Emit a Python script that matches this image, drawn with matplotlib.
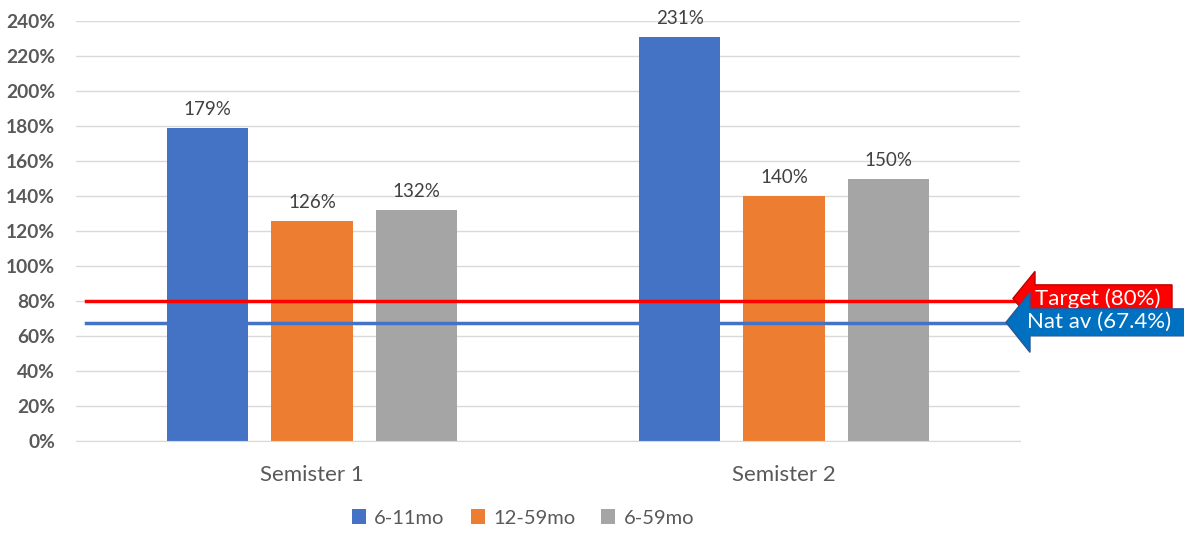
import matplotlib
matplotlib.use("Agg")
import matplotlib.pyplot as plt
from matplotlib.patches import Polygon, Patch
from matplotlib.transforms import blended_transform_factory

# Coverage by semester and age group
categories = ["Semister 1", "Semister 2"]
series_names = ["6-11mo", "12-59mo", "6-59mo"]
series_values = [
    [179, 231],   # 6-11mo
    [126, 140],   # 12-59mo
    [132, 150],   # 6-59mo
]
series_colors = ["#4472C4", "#ED7D31", "#A5A5A5"]
yticks = list(range(0, 241, 20))

target_value = 80
target_label = "Target (80%)"
national_value = 67.4
national_label = "Nat av (67.4%)"

plt.rcParams["font.family"] = ["Lato", "DejaVu Sans"]

W, H = 1184, 533
fig = plt.figure(figsize=(W / 100, H / 100), dpi=100)
ax = fig.add_axes([76 / W, (H - 441) / H, (1020 - 76) / W, (441 - 21) / H])

bar_w = 0.172
step = 0.221
for i, (name, vals, col) in enumerate(zip(series_names, series_values, series_colors)):
    xs = [c + (i - 1) * step for c in range(len(categories))]
    ax.bar(xs, vals, width=bar_w, color=col, label=name, zorder=2)
    for x, v in zip(xs, vals):
        ax.annotate(f"{v}%", (x, v), xytext=(0, 7), textcoords="offset points",
                    ha="center", va="bottom", fontsize=13.5, color="#404040")

ax.set_xlim(-0.5, len(categories) - 0.5)
ax.set_ylim(0, 240)
ax.set_yticks(yticks)
ax.set_yticklabels([f"{t}%" for t in yticks], fontsize=13.8, fontweight="bold", color="#595959")
ax.set_xticks(range(len(categories)))
ax.set_xticklabels(categories, fontsize=16, color="#595959")
ax.tick_params(axis="both", length=0)
ax.tick_params(axis="y", pad=15)
ax.tick_params(axis="x", pad=17)
ax.grid(axis="y", color="#D9D9D9", linewidth=1, zorder=0)
for s in ["top", "right", "left"]:
    ax.spines[s].set_visible(False)
ax.spines["bottom"].set_color("#D9D9D9")

# Reference lines
ax.axhline(target_value, xmin=10 / 944, xmax=1, color="#FF0000", linewidth=2.5, zorder=3)
ax.axhline(national_value, xmin=10 / 944, xmax=1, color="#4472C4", linewidth=2.5, zorder=3)

# Arrow callouts (x in figure pixels, y in data units)
tr = blended_transform_factory(fig.dpi_scale_trans, ax.transData)
px = 1 / 100.0     # inch per pixel
ppu = 420 / 240.0  # pixels per percent


def callout(tip_x, tip_val, head_x, right_x, head_half, body_half, face, edge,
            text, text_x, zo):
    pts = [
        (tip_x, tip_val),
        (head_x, tip_val + head_half / ppu),
        (head_x, tip_val + body_half / ppu),
        (right_x, tip_val + body_half / ppu),
        (right_x, tip_val - body_half / ppu),
        (head_x, tip_val - body_half / ppu),
        (head_x, tip_val - head_half / ppu),
    ]
    pts = [(x * px, y) for x, y in pts]
    poly = Polygon(pts, closed=True, facecolor=face, edgecolor=edge, linewidth=1,
                   transform=tr, clip_on=False, zorder=zo)
    fig.add_artist(poly)
    fig.text(text_x * px, tip_val, text, transform=tr, color="white",
             fontsize=16, ha="center", va="center", zorder=zo + 1)


callout(1013, target_value + 1.5, 1035, 1172, 27, 13.5, "#FF0000", "#C00000",
        target_label, 1098, 5)
callout(1006, national_value + 0.4, 1030, 1190, 30, 13.5, "#0070C0", "#2F5597",
        national_label, 1099, 7)

handles = [Patch(facecolor=c, label=n) for n, c in zip(series_names, series_colors)]
fig.legend(handles=handles, loc="center", bbox_to_anchor=(523 / W, (H - 518) / H),
           ncol=3, frameon=False, fontsize=14.5, handlelength=0.7, handleheight=0.7,
           handletextpad=0.4, columnspacing=1.3, labelcolor="#595959")

fig.savefig("out.png", dpi=100)
